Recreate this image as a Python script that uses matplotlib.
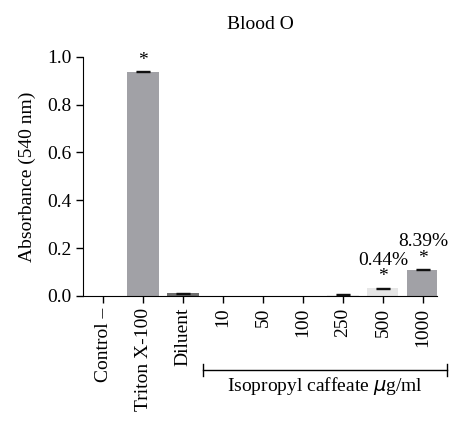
import numpy as np
import matplotlib.pyplot as plt

plt.rcParams['font.family'] = ['Liberation Serif', 'DejaVu Serif']

labels = ['Control \u2013', 'Triton X-100', 'Diluent', '10', '50', '100', '250', '500', '1000']
values = [0.0, 0.937, 0.012, 0.0, 0.0, 0.0, 0.006, 0.033, 0.109]
errors = [0.0, 0.002, 0.002, 0.0, 0.0, 0.0, 0.002, 0.002, 0.002]
stars = [False, True, False, False, False, False, False, True, True]
percents = {7: '0.44%', 8: '8.39%'}

colors = ['#a1a1a6', '#a1a1a6', '#6e6e6e', '#a1a1a6', '#a1a1a6', '#a1a1a6',
          '#eeeeee', '#e6e6e6', '#a1a1a6']

fs = 14

fig = plt.figure(figsize=(4.49, 4.21), dpi=100)
ax = fig.add_axes([0.185, 0.297, 0.788, 0.568])

x = np.arange(len(labels))
ax.bar(x, values, width=0.78, color=colors, edgecolor='none', zorder=2)
has_err = np.array(errors) > 0
ax.errorbar(x[has_err], np.array(values)[has_err], yerr=np.array(errors)[has_err],
            fmt='none', ecolor='#111111', elinewidth=1, capsize=5, capthick=1, zorder=3)

for i, v in enumerate(values):
    if stars[i]:
        ax.annotate('*', (x[i], v), xytext=(0, 2), textcoords='offset points',
                    ha='center', va='bottom', fontsize=fs)
    if i in percents:
        ax.annotate(percents[i], (x[i], v), xytext=(0, 14), textcoords='offset points',
                    ha='center', va='bottom', fontsize=fs)

ax.set_xlim(-0.5, 8.35)
ax.set_ylim(0, 1.0)
ax.set_yticks(np.arange(0, 1.01, 0.2))
ax.set_yticklabels([f'{t:.1f}' for t in np.arange(0, 1.01, 0.2)])
ax.set_xticks(x)
ax.set_xticklabels(labels, rotation=90, va='top', ha='center')
ax.tick_params(axis='both', direction='out', length=5, width=1, labelsize=fs, colors='black')
ax.spines['top'].set_visible(False)
ax.spines['right'].set_visible(False)
ax.set_ylabel('Absorbance (540 nm)', fontsize=fs, labelpad=8)
ax.set_title('Blood O', fontsize=fs, pad=20)

# bracket under the concentration group
trans = ax.get_xaxis_transform()
ax.plot([2.5, 8.6], [-0.31, -0.31], color='black', lw=1, transform=trans, clip_on=False)
for xe in (2.5, 8.6):
    ax.plot([xe, xe], [-0.285, -0.335], color='black', lw=1, transform=trans, clip_on=False)
ax.text(5.55, -0.33, 'Isopropyl caffeate $\\mu$g/ml', transform=trans, ha='center', va='top',
        fontsize=fs)

fig.savefig('out.png', dpi=100)
